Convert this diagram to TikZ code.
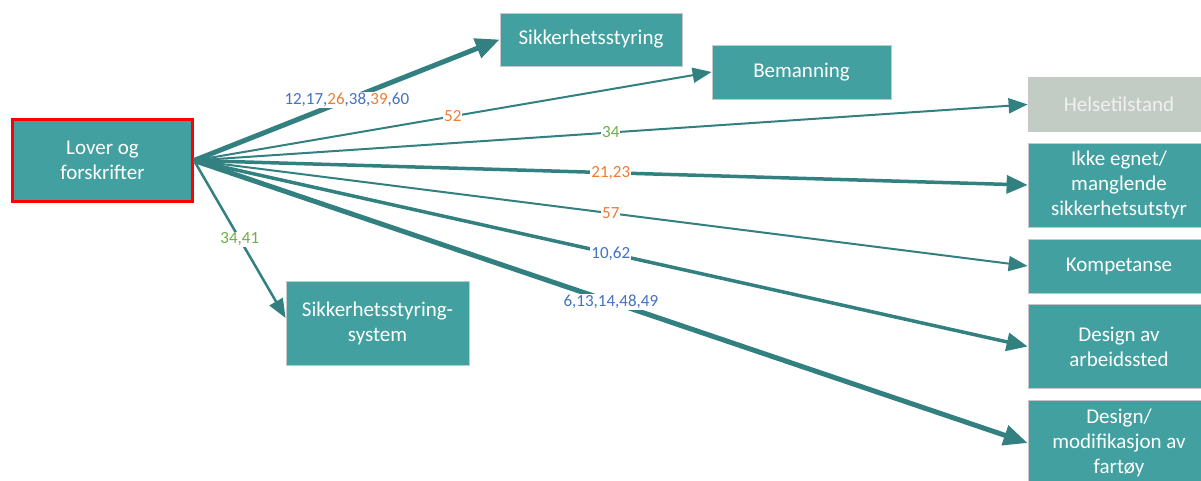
\documentclass[tikz,border=0pt]{standalone}
\usepackage{fontspec}
\setmainfont{Carlito}
\usetikzlibrary{arrows.meta}
\definecolor{boxteal}{RGB}{66,160,160}
\definecolor{linkteal}{RGB}{50,128,128}
\definecolor{boxgrey}{RGB}{195,204,196}
\definecolor{numblue}{RGB}{68,114,196}
\definecolor{numorange}{RGB}{237,125,49}
\definecolor{numgreen}{RGB}{112,173,71}
\tikzset{
  factor/.style={rectangle, fill=boxteal, draw=black!22, line width=0.8pt,
    text=white, align=center, inner sep=2pt,
    font=\fontsize{21}{25}\selectfont},
  link/.style={draw=linkteal, line width=2pt,
    -{Triangle[length=19pt,width=15pt]}},
  heavylink/.style={link, line width=3.5pt,
    -{Triangle[length=21pt,width=18pt]}},
  boldlink/.style={link, line width=5pt,
    -{Triangle[length=24pt,width=20pt]}},
  num/.style={fill=white, inner sep=1pt, font=\fontsize{17}{19}\selectfont}
}
\begin{document}
\begin{tikzpicture}[x=1pt,y=-1pt]
\useasboundingbox (0,0) rectangle (1201,481);

% source box
\node[factor, draw=red, line width=3pt, minimum width=180pt, minimum height=82pt]
  (lover) at (102.5,160.5) {Lover og\\forskrifter};

% factor boxes
\node[factor, minimum width=182pt, minimum height=53pt] (ss) at (591,39.5) {Sikkerhetsstyring};
\node[factor, minimum width=179pt, minimum height=54pt] (bem) at (801.5,72) {Bemanning};
\node[factor, fill=boxgrey, text=white!94!black, minimum width=182pt, minimum height=54pt]
  (helse) at (1119,104.5) {Helsetilstand};
\node[factor, minimum width=182pt, minimum height=84pt] (utstyr) at (1119,185)
  {Ikke egnet/\\manglende\\sikkerhetsutstyr};
\node[factor, minimum width=182pt, minimum height=54pt] (komp) at (1119,266) {Kompetanse};
\node[factor, minimum width=182pt, minimum height=84pt] (arb) at (1119,346.5)
  {Design av\\arbeidssted};
\node[factor, minimum width=182pt, minimum height=86pt] (fartoy) at (1119,443)
  {Design/\\modifikasjon av\\fartøy};
\node[factor, minimum width=183pt, minimum height=84pt] (sss) at (377.5,323)
  {Sikkerhetsstyring-\\system};

% connectors with case numbers
\draw[boldlink] (lover.east) -- node[num, pos=0.5]
  {\textcolor{numblue}{12,17,}\textcolor{numorange}{26}\textcolor{numblue}{,38,}\textcolor{numorange}{39}\textcolor{numblue}{,60}} (ss.west);
\draw[link] (lover.east) -- node[num, pos=0.5, text=numorange] {52} (bem.west);
\draw[link] (lover.east) -- node[num, pos=0.5, text=numgreen] {34} (helse.west);
\draw[heavylink] (lover.east) -- node[num, pos=0.5, text=numorange] {21,23} (utstyr.west);
\draw[link] (lover.east) -- node[num, pos=0.5, text=numorange] {57} (komp.west);
\draw[heavylink] (lover.east) -- node[num, pos=0.5, text=numblue] {10,62} (arb.west);
\draw[boldlink] (lover.east) -- node[num, pos=0.5, text=numblue] {6,13,14,48,49} (fartoy.west);
\draw[link, line width=2.5pt] (lover.east) -- node[num, pos=0.5, text=numgreen] {34,41} ([yshift=5pt]sss.west);
\end{tikzpicture}
\end{document}
